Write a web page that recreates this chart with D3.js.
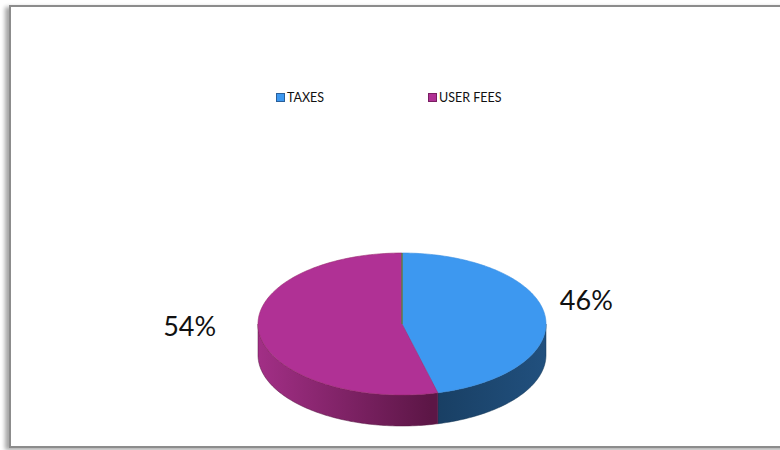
<!DOCTYPE html>
<html>
<head>
<meta charset="utf-8">
<script src="https://cdn.jsdelivr.net/npm/d3@7"></script>
<style>
  html, body { margin: 0; padding: 0; background: #fff; }
  svg { display: block; }
</style>
</head>
<body>
<svg id="chart" width="780" height="450"></svg>
<script>
// Revenue sources, in percent
const categories = ["TAXES", "USER FEES"];
const values = [46, 54];
const labels = ["46%", "54%"];
const topColors = ["#3d98f0", "#b03195"];
const sideLight = ["#21507e", "#a22f86"];
const sideDark = ["#173c5f", "#5c1646"];
const legendBorder = ["#2a5f99", "#7a1f63"];

const svg = d3.select("#chart");
const defs = svg.append("defs");

// frame with a soft shadow on its left and bottom
const sh = defs.append("filter").attr("id", "frameShadow")
  .attr("x", "-5%").attr("y", "-5%").attr("width", "110%").attr("height", "110%");
sh.append("feGaussianBlur").attr("in", "SourceAlpha").attr("stdDeviation", 2).attr("result", "b");
sh.append("feOffset").attr("in", "b").attr("dx", -4).attr("dy", 2).attr("result", "o");
sh.append("feComponentTransfer").attr("in", "o").attr("result", "o2")
  .append("feFuncA").attr("type", "linear").attr("slope", 0.35);
const m = sh.append("feMerge");
m.append("feMergeNode").attr("in", "o2");
m.append("feMergeNode").attr("in", "SourceGraphic");

svg.append("rect")
  .attr("x", 10).attr("y", 6).attr("width", 790).attr("height", 441)
  .attr("fill", "#fff").attr("stroke", "#8c8c8c").attr("stroke-width", 2)
  .attr("filter", "url(#frameShadow)");

// pie geometry (elliptical projection of a flat disc)
const cx = 402, cy = 324, rx = 144, ry = 71, depth = 31;
const pie = d3.pie().sort(null).value(d => d)(values);

const px = a => cx + rx * Math.sin(a);
const py = a => cy - ry * Math.cos(a);

function arcPoints(a0, a1, dy) {
  const n = Math.max(2, Math.ceil(Math.abs(a1 - a0) / 0.02));
  return d3.range(n + 1).map(i => {
    const a = a0 + (a1 - a0) * i / n;
    return [px(a), py(a) + dy];
  });
}

const line = d3.line();

// side wall gradients
pie.forEach((p, i) => {
  const g = defs.append("linearGradient").attr("id", "side" + i)
    .attr("gradientUnits", "userSpaceOnUse")
    .attr("x1", cx - rx).attr("x2", cx + rx).attr("y1", 0).attr("y2", 0);
  if (i === 0) {
    g.append("stop").attr("offset", "0.55").attr("stop-color", sideDark[i]);
    g.append("stop").attr("offset", "1").attr("stop-color", sideLight[i]);
  } else {
    g.append("stop").attr("offset", "0").attr("stop-color", sideLight[i]);
    g.append("stop").attr("offset", "0.6").attr("stop-color", sideDark[i]);
  }
});

// visible outer walls (front half of the disc)
const gSide = svg.append("g");
pie.forEach((p, i) => {
  const s = Math.max(p.startAngle, Math.PI / 2);
  const e = Math.min(p.endAngle, 3 * Math.PI / 2);
  if (e <= s) return;
  const pts = arcPoints(s, e, 0).concat(arcPoints(e, s, depth));
  gSide.append("path")
    .attr("d", line(pts) + "Z")
    .attr("fill", `url(#side${i})`)
    .attr("stroke", d3.color(sideDark[i]).darker(0.3))
    .attr("stroke-width", 0.5);
});

// top faces
const gTop = svg.append("g");
pie.forEach((p, i) => {
  const pts = [[cx, cy]].concat(arcPoints(p.startAngle, p.endAngle, 0));
  gTop.append("path")
    .attr("d", line(pts) + "Z")
    .attr("fill", topColors[i])
    .attr("stroke", i === 1 ? "#9a2a6e" : "#3a8ee0")
    .attr("stroke-width", 0.6)
    .attr("stroke-linejoin", "round");
});

// thin seam at the 12 o'clock slice boundary
svg.append("line")
  .attr("x1", cx).attr("y1", cy).attr("x2", px(0)).attr("y2", py(0))
  .attr("stroke", "#5a8a3a").attr("stroke-width", 1.2);

// percentage labels placed beside the disc along each slice's mid angle
pie.forEach((p, i) => {
  const mid = (p.startAngle + p.endAngle) / 2;
  const right = Math.sin(mid) > 0;
  const x = right ? px(mid) + 15 : px(mid) - 43;
  const y = py(mid) + (right ? -12 : -4);
  svg.append("text")
    .attr("x", x).attr("y", y)
    .attr("text-anchor", right ? "start" : "end")
    .attr("dominant-baseline", "middle")
    .attr("font-family", "Lato, 'Open Sans', sans-serif")
    .attr("font-size", 27)
    .attr("fill", "#111")
    .text(labels[i]);
});

// legend
const legendX = d3.scalePoint().domain(categories).range([276, 428]);
const lg = svg.append("g");
categories.forEach((c, i) => {
  const x = legendX(c);
  lg.append("rect")
    .attr("x", x + 0.5).attr("y", 93.5).attr("width", 8).attr("height", 8)
    .attr("fill", topColors[i]).attr("stroke", legendBorder[i]).attr("stroke-width", 1);
  lg.append("text")
    .attr("x", x + 11).attr("y", 102)
    .attr("font-family", "Lato, 'Open Sans', sans-serif")
    .attr("font-size", 12.5)
    .attr("fill", "#111")
    .text(c);
});
</script>
</body>
</html>
